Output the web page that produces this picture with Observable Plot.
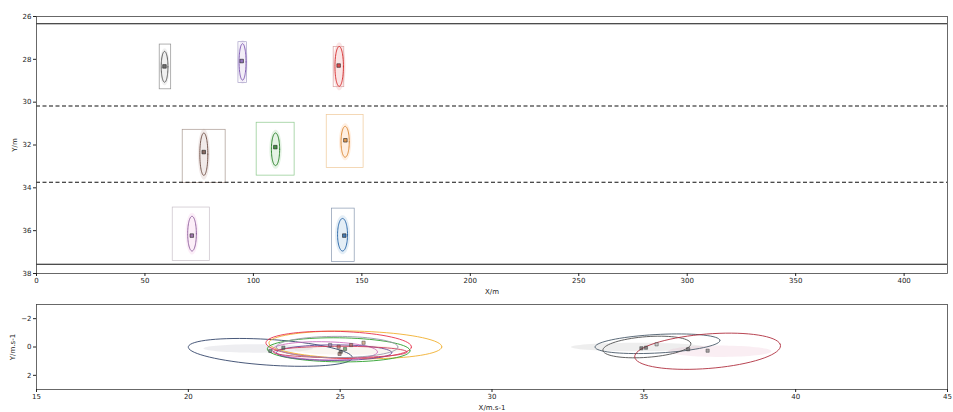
<!DOCTYPE html>
<html><head><meta charset="utf-8">
<script src="https://cdn.jsdelivr.net/npm/d3@7"></script>
<script src="https://cdn.jsdelivr.net/npm/@observablehq/plot@0.6"></script>
<style>
body{margin:0;background:#fff;font-family:"DejaVu Sans",sans-serif;}
#chart svg{display:block;}
</style></head><body><div id="chart"></div>
<script>
// ---------- top panel: positions (X/m, Y/m) ----------
const vehicleIds   = ["gray","purple","red","brown","green","orange","pink","blue"];
const vehicleColor = ["#7f7f7f","#9467bd","#d62728","#8c564b","#2ca02c","#ff7f0e","#e377c2","#1f77b4"];
const ellipseColor = ["#505050","#7a55b0","#d62728","#6b4a40","#1f7a1f","#d8822a","#8a5a9a","#1f5fa4"];
const boxColor     = ["#909090","#a8a0c8","#d8a0a0","#a89890","#8cc88c","#f0c898","#c8c0c8","#8898b0"];
const ellCX = [59.05, 95.0, 139.55, 77.15, 110.2, 142.3, 71.7, 141.1];
const ellCY = [28.35, 28.12, 28.33, 32.43, 32.2, 31.85, 36.14, 36.19];
const ellRX = [1.55, 1.6, 1.95, 1.85, 1.9, 1.9, 2.0, 2.3];
const ellRY = [0.72, 0.85, 0.93, 0.99, 0.76, 0.72, 0.81, 0.76];
const boxX1 = [56.8, 93.1, 137.0, 67.4, 101.5, 133.8, 62.8, 136.3];
const boxX2 = [62.1, 97.1, 141.9, 87.2, 119.0, 150.8, 79.9, 146.7];
const boxY1 = [27.31, 27.2, 27.43, 31.29, 30.96, 30.6, 34.92, 34.97];
const boxY2 = [29.40, 29.11, 29.30, 33.78, 33.43, 33.08, 37.41, 37.47];
const markX = [59.0, 94.6, 139.3, 77.1, 110.1, 142.4, 71.6, 141.9];
const markY = [28.33, 28.08, 28.29, 32.33, 32.10, 31.78, 36.23, 36.23];
const laneSolid  = [26.34, 37.57];
const laneDashed = [30.18, 33.74];
const xTicksTop = [0, 50, 100, 150, 200, 250, 300, 350, 400];
const yTicksTop = [26, 28, 30, 32, 34, 36, 38];

// ---------- bottom panel: velocities (X/m.s-1, Y/m.s-1) ----------
const velColor = ["#34466b","#f0b030","#e8304a","#2ca02c","#d070c0","#6a4a9a","#d04060","#9a9aaa","#4a5a6a","#505050","#b03040"];
const velCX    = [22.7, 25.5, 24.95, 24.95, 24.5, 24.8, 25.0, 24.9, 35.45, 35.1, 37.1];
const velCY    = [0.38, -0.15, -0.15, 0.2, 0.27, 0.4, 0.35, 0.0, -0.23, 0.0, 0.3];
const velA     = [2.73, 2.85, 2.4, 2.35, 1.73, 1.9, 2.2, 2.0, 2.07, 1.47, 2.44];
const velB     = [0.9, 0.97, 0.95, 0.85, 0.64, 0.55, 0.4, 0.75, 0.65, 0.72, 1.2];
const velTilt  = [0.154, 0.053, 0.07, 0.03, 0.05, 0.0, 0.0, 0.0, -0.123, -0.2, -0.209];
const velMarkX = [22.7, 23.13, 24.67, 24.95, 25.02, 24.98, 25.16, 25.36, 25.77, 34.92, 35.07, 35.42, 36.46, 37.1];
const velMarkY = [0.28, 0.05, -0.14, -0.02, 0.33, 0.49, 0.14, -0.14, -0.3, 0.09, 0.05, -0.19, 0.16, 0.26];
const velMarkColor = ["#3a5a50","#3a5a50","#8a70a8","#c04040","#303030","#8c564b","#2c7a2c","#b05040","#c08050","#404040","#404040","#b0b0b0","#505050","#707070"];
const cloudColor = ["#9090a0","#e0c0a0","#909090","#e090b0"];
const cloudCX = [22.3, 25.3, 34.8, 37.5];
const cloudCY = [0.1, 0.2, 0.0, 0.3];
const cloudA  = [1.8, 1.8, 2.2, 1.7];
const cloudB  = [0.3, 0.35, 0.3, 0.4];
const xTicksBot = [15, 20, 25, 30, 35, 40, 45];
const yTicksBot = [-2, 0, 2];

// ---------- geometry helpers (outline of an ellipse from its parameters) ----------
const N = 72;
function ellipsePts(cx, cy, a, b, tilt, id, color) {
  const pts = [];
  for (let k = 0; k <= N; k++) {
    const t = 2 * Math.PI * k / N;
    const ex = a * Math.cos(t), ey = b * Math.sin(t);
    pts.push({x: cx + ex * Math.cos(tilt) - ey * Math.sin(tilt),
              y: cy + ex * Math.sin(tilt) + ey * Math.cos(tilt), id, color});
  }
  return pts;
}
const fmtInt = d => (d < 0 ? "\u2212" : "") + Math.abs(d);

const vehicles = vehicleIds.map((id, i) => ({id, x1: boxX1[i], x2: boxX2[i], y1: boxY1[i], y2: boxY2[i], box: boxColor[i]}));
const ellTop = vehicleIds.flatMap((id, i) => ellipsePts(ellCX[i], ellCY[i], ellRX[i], ellRY[i], 0, id, ellipseColor[i]));
const cloudTop = vehicleIds.flatMap((id, i) => ellipsePts(ellCX[i], ellCY[i], ellRX[i] * 1.5, ellRY[i] * 1.2, 0, id, vehicleColor[i]));
const marksTop = vehicleIds.map((id, i) => ({x: markX[i], y: markY[i], c: ellipseColor[i]}));

const ellBot = velColor.flatMap((c, i) => ellipsePts(velCX[i], velCY[i], velA[i], velB[i], velTilt[i], "v" + i, c));
const cloudBot = cloudColor.flatMap((c, i) => ellipsePts(cloudCX[i], cloudCY[i], cloudA[i], cloudB[i], 0, "c" + i, c));
const marksBot = velMarkX.map((x, i) => ({x, y: velMarkY[i], c: velMarkColor[i]}));

const style = {fontFamily: "DejaVu Sans, sans-serif", fontSize: "7px", color: "#222", background: "white", overflow: "visible"};

const topPlot = Plot.plot({
  width: 953, height: 297, marginTop: 16, marginBottom: 24, marginLeft: 36, marginRight: 6,
  style,
  x: {domain: [0, 420]},
  y: {domain: [26, 38], reverse: true},
  color: {type: "identity"},
  marks: [
    Plot.line(cloudTop, {x: "x", y: "y", z: "id", fill: "color", fillOpacity: 0.12, stroke: null}),
    Plot.rect(vehicles, {x1: "x1", x2: "x2", y1: "y1", y2: "y2", fill: "none", stroke: "box", strokeWidth: 0.7}),
    Plot.line(ellTop, {x: "x", y: "y", z: "id", stroke: "color", strokeWidth: 0.9}),
    Plot.dot(marksTop, {x: "x", y: "y", symbol: "square", r: 2, fill: "c", fillOpacity: 0.8, stroke: "#222", strokeWidth: 0.6}),
    Plot.ruleY(laneSolid, {stroke: "#111", strokeWidth: 1.1}),
    Plot.ruleY(laneDashed, {stroke: "#111", strokeWidth: 1.1, strokeDasharray: "4,2.5"}),
    Plot.frame({stroke: "#444", strokeWidth: 0.8}),
    Plot.axisX({ticks: xTicksTop, tickFormat: fmtInt, tickSize: 3, tickPadding: 2, label: "X/m", labelAnchor: "center", labelArrow: "none", labelOffset: 20}),
    Plot.axisY({ticks: yTicksTop, tickFormat: fmtInt, tickSize: 3, tickPadding: 2, label: "Y/m", labelAnchor: "center", labelArrow: "none", labelOffset: 24})
  ]
});

const botPlot = Plot.plot({
  width: 953, height: 115, marginTop: 7, marginBottom: 23, marginLeft: 36, marginRight: 6,
  style,
  x: {domain: [15, 45]},
  y: {domain: [-3, 3], reverse: true},
  color: {type: "identity"},
  marks: [
    Plot.line(cloudBot, {x: "x", y: "y", z: "id", fill: "color", fillOpacity: 0.15, stroke: null}),
    Plot.line(ellBot, {x: "x", y: "y", z: "id", stroke: "color", strokeWidth: 0.9}),
    Plot.dot(marksBot, {x: "x", y: "y", symbol: "square", r: 1.8, fill: "c", fillOpacity: 0.6, stroke: "#444", strokeWidth: 0.5}),
    Plot.frame({stroke: "#444", strokeWidth: 0.8}),
    Plot.axisX({ticks: xTicksBot, tickFormat: fmtInt, tickSize: 3, tickPadding: 2, label: "X/m.s-1", labelAnchor: "center", labelArrow: "none", labelOffset: 20}),
    Plot.axisY({ticks: yTicksBot, tickFormat: fmtInt, tickSize: 3, tickPadding: 2, label: "Y/m.s-1", labelAnchor: "center", labelArrow: "none", labelOffset: 26})
  ]
});

const root = document.getElementById("chart");
root.appendChild(topPlot);
root.appendChild(botPlot);
</script></body></html>
